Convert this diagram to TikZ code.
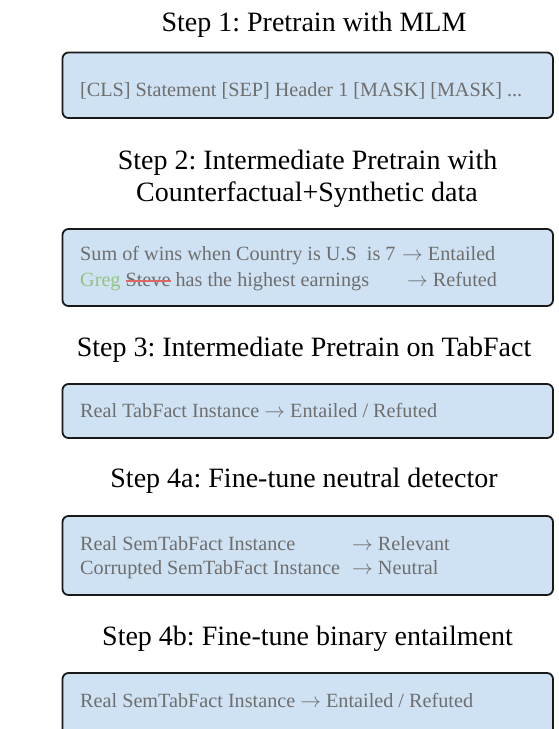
\documentclass[tikz,border=0pt]{standalone}
\usepackage{fontspec}
\setmainfont{Liberation Serif}
\definecolor{boxfill}{HTML}{CFE2F3}
\definecolor{boxtext}{HTML}{6E6E6E}
\definecolor{gregc}{HTML}{93C47D}
\definecolor{stevec}{HTML}{E06666}
\newsavebox\stevebox
\frenchspacing
\begin{document}
\begin{tikzpicture}[x=1pt,y=-1pt,
  stagebox/.style={draw=black!90,line width=1.8pt,rounded corners=6pt,fill=boxfill},
  title/.style={anchor=base,inner sep=0pt,font=\fontsize{28}{32}\selectfont,text=black},
  btext/.style={anchor=base west,inner sep=0pt,font=\fontsize{20.2}{24}\selectfont,text=boxtext}]
\useasboundingbox (0,0) rectangle (559,729);
\clip (0,0) rectangle (559,729);
% titles
\node[title] (t1) at (314,31.7) {Step 1: Pretrain with MLM};
\node[title] (t2a) at (307.5,169.3) {Step 2: Intermediate Pretrain with};
\node[title] (t2b) at (307,201.7) {Counterfactual+Synthetic data};
\node[title] (t3) at (304,356.7) {Step 3: Intermediate Pretrain on TabFact};
\node[title] (t4a) at (304,487.3) {Step 4a: Fine-tune neutral detector};
\node[title] (t4b) at (307.5,645.7) {Step 4b: Fine-tune binary entailment};
% boxes
\draw[stagebox] (62.5,52.5) rectangle (553,118);
\draw[stagebox] (62.5,229) rectangle (553,306);
\draw[stagebox] (62.5,384) rectangle (553,438);
\draw[stagebox] (62.5,516) rectangle (553,595);
\draw[stagebox] (62.5,673) rectangle (553,740);
% box texts
\node[btext] (b1) at (80,96.5) {[CLS] Statement [SEP] Header 1 [MASK] [MASK] ...};
\node[btext] (b2a) at (80,260.7) {Sum of wins when Country is U.S\ \ is 7};
\node[btext] (b2ar) at (402,260.7) {$\to$ Entailed};
\node[btext] (b2b) at (80,286.7) {\textcolor{gregc}{Greg} \sbox\stevebox{Steve}\textcolor{stevec}{\rlap{\usebox\stevebox}\rule[5pt]{\wd\stevebox}{1.5pt}} has the highest earnings};
\node[btext] (b2br) at (407,286.7) {$\to$ Refuted};
\node[btext] (b3) at (80,417) {Real TabFact Instance $\to$ Entailed / Refuted};
\node[btext] (b4a) at (80,550) {Real SemTabFact Instance};
\node[btext] (b4ar) at (352,550) {$\to$ Relevant};
\node[btext] (b4b) at (80,574.5) {Corrupted SemTabFact Instance};
\node[btext] (b4br) at (352,574.5) {$\to$ Neutral};
\node[btext] (b5) at (80,707) {Real SemTabFact Instance $\to$ Entailed / Refuted};
\end{tikzpicture}
\end{document}
